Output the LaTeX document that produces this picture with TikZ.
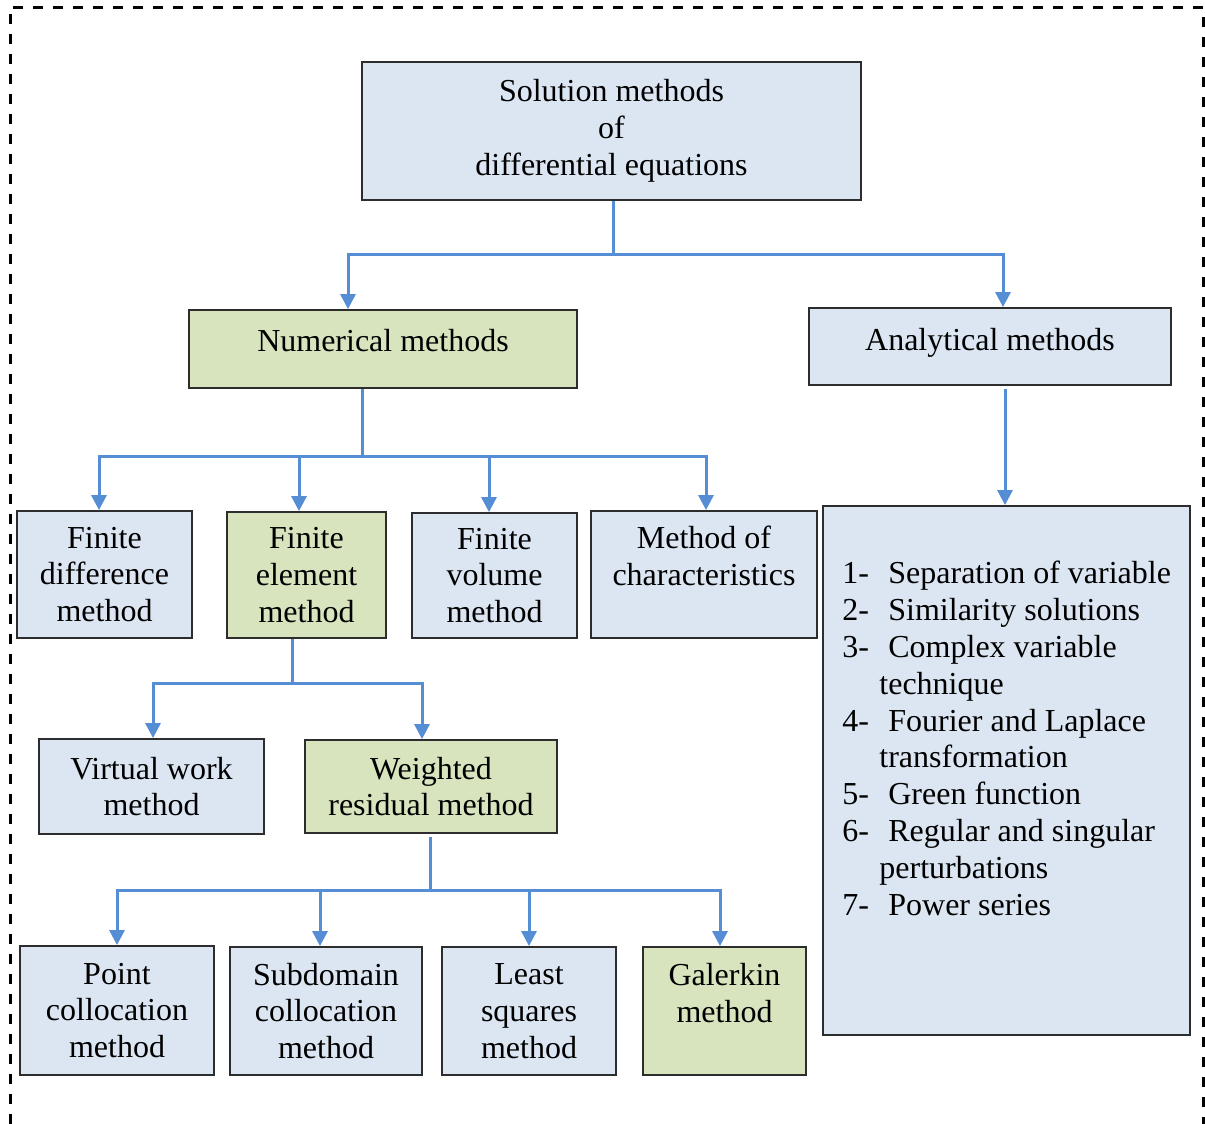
\documentclass[tikz,border=0pt]{standalone}
\usepackage{fontspec}
\setmainfont{Liberation Serif}
\usetikzlibrary{arrows.meta}
\definecolor{boxblue}{RGB}{220,230,242}
\definecolor{boxgreen}{RGB}{215,228,189}
\definecolor{linkblue}{RGB}{85,142,213}
\definecolor{edge}{RGB}{45,45,45}
\tikzset{
  txt/.style={font=\fontsize{16pt}{18.4pt}\selectfont},
  box/.style={txt, draw=edge, line width=0.9pt, inner sep=0pt, align=center, fill=boxblue},
  gbox/.style={box, fill=boxgreen},
  link/.style={draw=linkblue, line width=1.5pt},
  arr/.style={link, -{Triangle[length=7.5pt,width=7.5pt]}},
  frame/.style={line width=1.5pt, dash pattern=on 5pt off 5pt}
}
\begin{document}
\begin{tikzpicture}[x=0.5pt,y=-0.5pt]
\useasboundingbox (0,0) rectangle (1205,1124);
\draw[frame] (10,1124) -- (10,7) -- (1203,7) -- (1203,1124);

\node[box, minimum width=249.5pt, minimum height=69pt] (top) at (611.5,131) {Solution methods\\of\\differential equations};
\node[gbox, minimum width=194pt, minimum height=39pt, text height=11pt, text depth=9pt] (num) at (383,349) {Numerical methods};
\node[box, minimum width=181pt, minimum height=38.5pt, text height=11pt, text depth=7pt] (ana) at (990,346.5) {Analytical methods};

\node[box, minimum width=87.5pt, minimum height=63.5pt] (fd) at (104.5,574.5) {Finite\\difference\\method};
\node[gbox, minimum width=79.5pt, minimum height=63pt] (fe) at (306.5,575) {Finite\\element\\method};
\node[box, minimum width=82.5pt, minimum height=62.5pt] (fv) at (494.5,575.5) {Finite\\volume\\method};
\node[box, minimum width=113pt, minimum height=63.5pt] (mc) at (704,574.5) {Method of\\characteristics\\\mbox{}};

\node[box, minimum width=112.5pt, minimum height=47.5pt] (vw) at (151.5,786.5) {Virtual work\\method};
\node[gbox, minimum width=126pt, minimum height=46.5pt] (wr) at (431,786.5) {Weighted\\residual method};

\node[box, minimum width=97pt, minimum height=64.5pt] (pc) at (117,1010.5) {Point\\collocation\\method};
\node[box, minimum width=96pt, minimum height=64pt] (sd) at (326,1011) {Subdomain\\collocation\\method};
\node[box, minimum width=87pt, minimum height=64pt] (ls) at (529,1011) {Least\\squares\\method};
\node[gbox, minimum width=81.5pt, minimum height=64pt] (gk) at (724.5,1011) {Galerkin\\method\\\mbox{}};

\node[box, minimum width=183.5pt, minimum height=264.5pt] (list) at (1006.5,770.5) {};
\node[txt, anchor=north west, inner sep=0pt, align=left] (items) at (842,561) {%
\makebox[23pt][l]{1-}Separation of variable\\
\makebox[23pt][l]{2-}Similarity solutions\\
\makebox[23pt][l]{3-}Complex variable\\
\hspace*{18.5pt}technique\\
\makebox[23pt][l]{4-}Fourier and Laplace\\
\hspace*{18.5pt}transformation\\
\makebox[23pt][l]{5-}Green function\\
\makebox[23pt][l]{6-}Regular and singular\\
\hspace*{18.5pt}perturbations\\
\makebox[23pt][l]{7-}Power series};

% connectors
\coordinate (jA) at (613,254);
\draw[link] (top.south -| jA) -- (jA);
\draw[arr] (jA) -| (num.north -| 348,0);
\draw[arr] (jA) -| (ana.north -| 1003,0);

\coordinate (jB) at (362,456);
\draw[link] (num.south -| jB) -- (jB);
\draw[arr] (jB) -| (fd.north -| 99,0);
\draw[arr] (jB) -| (fe.north -| 299,0);
\draw[arr] (jB) -| (fv.north -| 489,0);
\draw[arr] (jB) -| (mc.north -| 706,0);

\draw[arr] ([yshift=-1.5pt]ana.south -| 1005,0) -- (list.north -| 1005,0);

\coordinate (jC) at (292,683);
\draw[link] (fe.south -| jC) -- (jC);
\draw[arr] (jC) -| (vw.north -| 153,0);
\draw[arr] (jC) -| (wr.north -| 422,0);

\coordinate (jD) at (430,890);
\draw[link] ([yshift=-1.5pt]wr.south -| jD) -- (jD);
\draw[arr] (jD) -| (pc.north -| 117,0);
\draw[arr] (jD) -| (sd.north -| 320,0);
\draw[arr] (jD) -| (ls.north -| 529,0);
\draw[arr] (jD) -| (gk.north -| 720,0);
\end{tikzpicture}
\end{document}
